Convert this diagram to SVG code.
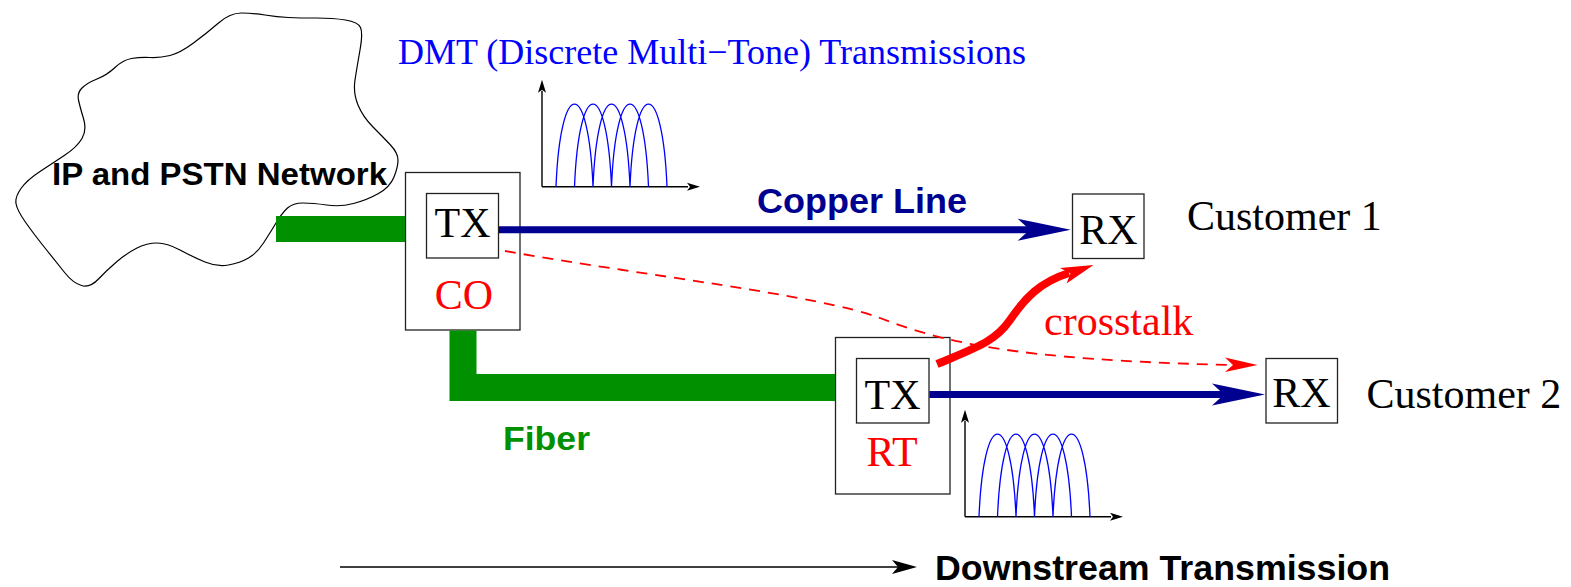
<svg xmlns="http://www.w3.org/2000/svg" width="1571" height="587" viewBox="0 0 1571 587">
<style>
.box{fill:none;stroke:#222;stroke-width:1.3}
.tm{font-family:"Liberation Serif","Times New Roman",serif;font-size:42px}
.sb{font-family:"Liberation Sans",Arial,sans-serif;font-weight:bold}
.ax{stroke:#000;stroke-width:1.4;fill:none}
.hump{stroke:#0000ff;stroke-width:1.3;fill:none}
.navy{stroke:#000090;stroke-width:7;fill:none}
</style>
<defs>
<path id="humps" class="hump" d="M14,0 C18.5,-110 46.5,-110 51,0 M32.5,0 C37,-110 65,-110 69.5,0 M51,0 C55.5,-110 83.5,-110 88,0 M69.5,0 C74,-110 102,-110 106.5,0 M88,0 C92.5,-110 120.5,-110 125,0"/>
<g id="axes">
<path class="ax" d="M0,0 V-96 M0,0 H146"/>
<path d="M0,-107 L-4,-94 L0,-97 L4,-94 Z M158,0 L145,-4 L148,0 L145,4 Z" fill="#000"/>
</g>
</defs>

<g id="cloud">
<path d="M218.5,23 Q230,13 241.5,13 Q253,13 265,15 Q277,17 288.5,17.5 Q300,18 316.5,18 Q333,18 345.5,20 Q358,22 360.5,27.5 Q363,33 360,50 Q357,67 355,80 Q353,93 358,105 Q363,117 373,127 Q383,137 390.5,145 Q398,153 398,160 Q398,167 394,177 Q390,187 378.5,193.5 Q367,200 353.5,203.5 Q340,207 326.5,205 Q313,203 303,203 Q293,203 287.5,208 Q282,213 276,223 Q270,233 263.5,243 Q257,253 248.5,258 Q240,263 228.5,265 Q217,267 205,262 Q193,257 180,250 Q167,243 157,243 Q147,243 137,248 Q127,253 117,261.5 Q107,270 98.5,279 Q90,288 81.5,285.5 Q73,283 65,273 Q57,263 45,248 Q33,233 25,221.5 Q17,210 16,203.5 Q15,197 21,188.5 Q27,180 40,171.5 Q53,163 65,155 Q77,147 82,138.5 Q87,130 83.5,118.5 Q80,107 78.5,100 Q77,93 82,88 Q87,83 97,79 Q107,75 115,67.5 Q123,60 131.5,58.5 Q140,57 150,57.5 Q160,58 170,55.5 Q180,53 193.5,43 Q207,33 218.5,23 Z" fill="#fff" stroke="#000" stroke-width="1.2"/>
<text class="sb" x="52" y="185" font-size="31" textLength="335" lengthAdjust="spacingAndGlyphs">IP and PSTN Network</text>
</g>

<g id="dmt-title">
<text x="398" y="64" font-family="'Liberation Serif','Times New Roman',serif" font-size="35" fill="#0000ff" textLength="628" lengthAdjust="spacingAndGlyphs">DMT (Discrete Multi−Tone) Transmissions</text>
</g>

<g id="spectrum1" transform="translate(542,186.7)">
<use href="#axes"/>
<use href="#humps"/>
</g>
<g id="spectrum2" transform="translate(965,516.7)">
<use href="#axes"/>
<use href="#humps"/>
</g>

<g id="CO">
<rect class="box" x="405.5" y="172.5" width="114.5" height="157.5"/>
<rect class="box" x="426.5" y="193.5" width="72" height="64.5"/>
<text class="tm" x="462.5" y="237" text-anchor="middle">TX</text>
<text class="tm" x="464" y="309" text-anchor="middle" fill="#ff0000">CO</text>
</g>

<g id="RT">
<rect class="box" x="835.5" y="337.5" width="114.5" height="156.5"/>
<rect class="box" x="856.5" y="358.5" width="72.5" height="64.5"/>
<text class="tm" x="892.5" y="409" text-anchor="middle">TX</text>
<text class="tm" x="892" y="466" text-anchor="middle" fill="#ff0000">RT</text>
</g>

<g id="RX1">
<rect class="box" x="1072.5" y="194" width="71.5" height="64.5"/>
<text class="tm" x="1108.5" y="244" text-anchor="middle">RX</text>
</g>

<g id="RX2">
<rect class="box" x="1266" y="358.5" width="71.5" height="64.5"/>
<text class="tm" x="1301.5" y="407" text-anchor="middle">RX</text>
</g>

<g id="connectors">
<path d="M276,229 H405" stroke="#009000" stroke-width="26" fill="none"/>
<path d="M463,330.5 V387.5 H835" stroke="#009000" stroke-width="27" fill="none"/>
<path class="navy" d="M499,229.7 H1032"/>
<path d="M1070.7,229.7 L1017.7,218.7 L1029.7,229.7 L1017.7,240.7 Z" fill="#000090"/>
<path class="navy" d="M929.5,394.5 H1226"/>
<path d="M1265,394.5 L1212,383.5 L1224,394.5 L1212,405.5 Z" fill="#000090"/>
<path d="M505,251 C640,275 820,295 880,318 C940,341 1010,360 1233,365" fill="none" stroke="#ff0000" stroke-width="1.8" stroke-dasharray="11 8"/>
<path d="M1257.5,365 L1225,357.5 L1233,365 L1225,372 Z" fill="#ff0000"/>
<path d="M937,364 C975,348 995,342 1010,320 C1025,298 1040,282 1069,273" fill="none" stroke="#ff0000" stroke-width="8"/>
<path d="M1093.5,265 L1060,268 L1070.5,273.5 L1066.5,283.5 Z" fill="#ff0000"/>
<path d="M340,567 H900" stroke="#000" stroke-width="1.6" fill="none"/>
<path d="M917,567 L892,560 L898,567 L892,574 Z" fill="#000"/>
</g>

<g id="labels">
<text class="tm" x="1187" y="230">Customer 1</text>
<text class="tm" x="1366.5" y="408">Customer 2</text>
<text class="tm" x="1044" y="335" fill="#ff0000">crosstalk</text>
<text class="sb" x="757" y="213" font-size="35" fill="#000090" textLength="210" lengthAdjust="spacingAndGlyphs">Copper Line</text>
<text class="sb" x="503" y="450" font-size="33" fill="#009000" textLength="87" lengthAdjust="spacingAndGlyphs">Fiber</text>
<text class="sb" x="935" y="580" font-size="35" textLength="455" lengthAdjust="spacingAndGlyphs">Downstream Transmission</text>
</g>
</svg>
